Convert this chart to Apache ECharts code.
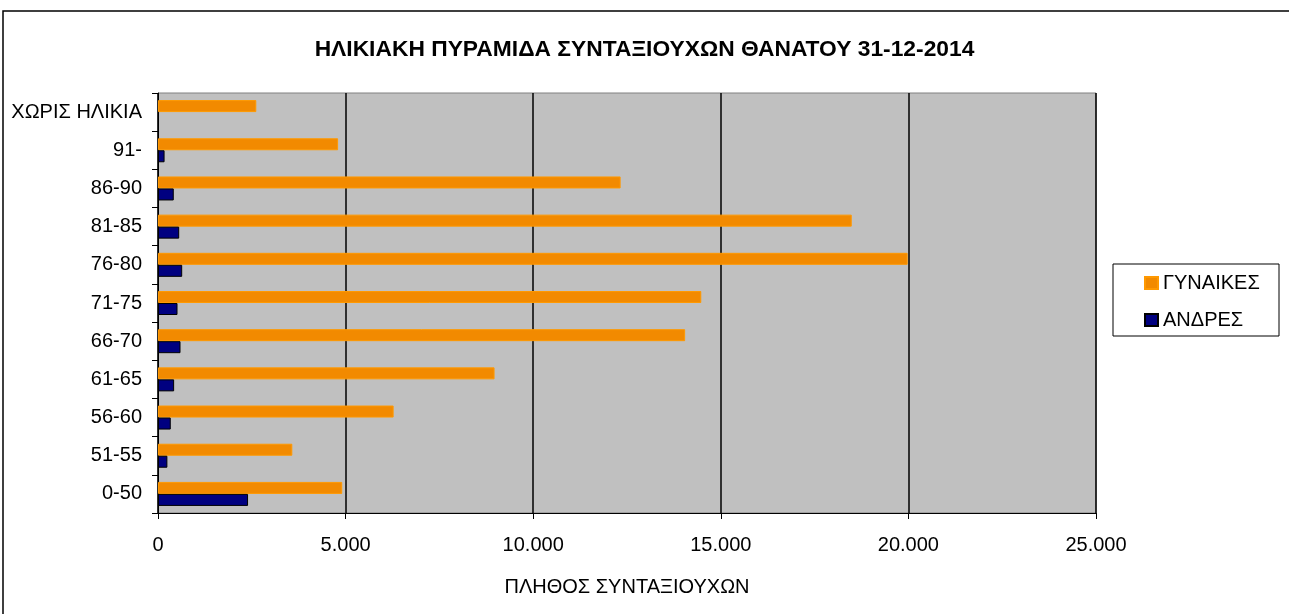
<!DOCTYPE html>
<html lang="el">
<head>
    <meta charset="UTF-8">
    <title>Ηλικιακή πυραμίδα</title>
    <script src="https://cdn.jsdelivr.net/npm/echarts@6/dist/echarts.min.js"></script>
    <style>
        html, body { margin: 0; padding: 0; background: #fff; }
        #chart { width: 1289px; height: 614px; }
    </style>
</head>
<body>
<div id="chart"></div>
<script>
    // κατηγορίες ηλικίας (από κάτω προς τα πάνω)
    var ageGroups = ['0-50', '51-55', '56-60', '61-65', '66-70', '71-75', '76-80', '81-85', '86-90', '91-', 'ΧΩΡΙΣ ΗΛΙΚΙΑ'];
    var women = [4910, 3580, 6280, 8970, 14050, 14480, 19980, 18490, 12330, 4800, 2620];
    var men = [2400, 250, 340, 430, 600, 520, 645, 565, 420, 175, null];
    var xTicks = [0, 5000, 10000, 15000, 20000, 25000];

    var FONT = '"Liberation Sans", Arial, sans-serif';

    function fmt(v) {
        return String(v).replace(/\B(?=(\d{3})+(?!\d))/g, '.');
    }

    var chart = echarts.init(document.getElementById('chart'));

    var option = {
        backgroundColor: '#ffffff',
        animation: false,
        title: {
            text: 'ΗΛΙΚΙΑΚΗ ΠΥΡΑΜΙΔΑ ΣΥΝΤΑΞΙΟΥΧΩΝ ΘΑΝΑΤΟΥ 31-12-2014',
            left: 'center',
            top: 33,
            textStyle: {
                fontFamily: FONT,
                fontSize: 22.8,
                fontWeight: 'bold',
                color: '#000'
            }
        },
        graphic: [
            {
                type: 'rect',
                shape: { x: 3, y: 11, width: 1300, height: 700 },
                style: { fill: 'none', stroke: '#000', lineWidth: 1.5 },
                silent: true
            },
            {
                type: 'rect',
                shape: { x: 1113, y: 264, width: 166, height: 72 },
                style: { fill: '#fff', stroke: '#000', lineWidth: 1 },
                silent: true,
                z: 0
            }
        ],
        legend: {
            orient: 'vertical',
            left: 1139,
            top: 268,
            icon: 'rect',
            itemWidth: 13,
            itemHeight: 12,
            itemGap: 17,
            data: ['ΓΥΝΑΙΚΕΣ', 'ΑΝΔΡΕΣ'],
            textStyle: { fontFamily: FONT, fontSize: 20, color: '#000' },
            z: 5
        },
        grid: {
            left: 158,
            right: 193,
            top: 93,
            bottom: 101,
            show: true,
            backgroundColor: '#c0c0c0',
            borderColor: '#808080',
            borderWidth: 1
        },
        xAxis: {
            type: 'value',
            min: xTicks[0],
            max: xTicks[xTicks.length - 1],
            interval: xTicks[1] - xTicks[0],
            name: 'ΠΛΗΘΟΣ ΣΥΝΤΑΞΙΟΥΧΩΝ',
            nameLocation: 'middle',
            nameGap: 64,
            nameTextStyle: { fontFamily: FONT, fontSize: 20, color: '#000' },
            axisLine: { show: true, lineStyle: { color: '#000', width: 1 } },
            axisTick: { show: true, length: 6, lineStyle: { color: '#000' } },
            axisLabel: {
                fontFamily: FONT,
                fontSize: 20,
                color: '#000',
                margin: 22,
                formatter: function (v) { return fmt(v); }
            },
            splitLine: { show: true, lineStyle: { color: '#000', width: 1.5 } }
        },
        yAxis: {
            type: 'category',
            data: ageGroups,
            axisLine: { show: true, lineStyle: { color: '#000', width: 1 } },
            axisTick: { show: true, length: 6, lineStyle: { color: '#000' } },
            axisLabel: { fontFamily: FONT, fontSize: 20, color: '#000', margin: 16 }
        },
        series: [
            {
                name: 'ΓΥΝΑΙΚΕΣ',
                type: 'bar',
                data: women,
                barWidth: 12,
                barGap: '0%',
                itemStyle: { color: '#f28a00', borderColor: '#ff9900', borderWidth: 1 }
            },
            {
                name: 'ΑΝΔΡΕΣ',
                type: 'bar',
                data: men,
                barWidth: 12,
                barGap: '0%',
                itemStyle: { color: '#000080', borderColor: '#000', borderWidth: 1 }
            }
        ]
    };

    chart.setOption(option);
</script>
</body>
</html>
